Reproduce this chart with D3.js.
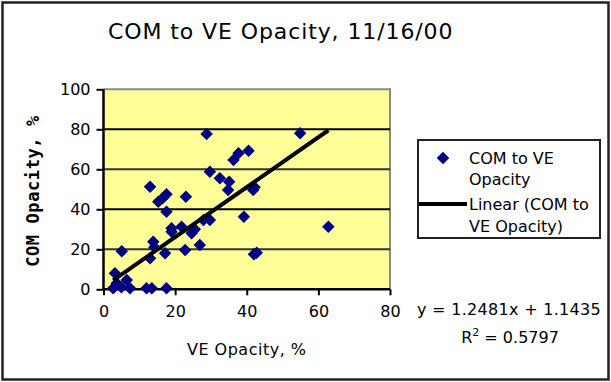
<!DOCTYPE html>
<html><head><meta charset="utf-8">
<script src="https://cdn.jsdelivr.net/npm/d3@7"></script>
<style>html,body{margin:0;padding:0;background:#fff;}svg{display:block;}</style>
</head><body>
<script>
// ---- data ----
const title = "COM to VE Opacity, 11/16/00";
const xLabel = "VE Opacity, %";
const yLabel = "COM Opacity, %";
const seriesName = ["COM to VE", "Opacity"];
const trendName = ["Linear (COM to", "VE Opacity)"];
const veOpacity  = [2.7, 3.2, 3.7, 5.0, 5.1, 6.5, 7.4, 12.0, 13.5, 17.6, 13.0, 13.9, 14.2, 17.2, 19.0, 13.0, 15.3, 16.5, 17.6, 23.0, 17.6, 19.0, 21.8, 24.6, 25.5, 27.9, 29.7, 22.8, 26.9, 28.8, 29.7, 32.5, 35.1, 34.8, 36.3, 37.7, 40.5, 41.8, 39.2, 42.8, 42.0, 54.9, 62.8, 42.2];
const comOpacity = [0.5, 8.0, 3.0, 1.0, 19.0, 4.6, 0.5, 0.5, 0.5, 0.5, 15.5, 23.8, 21.0, 18.0, 28.8, 51.3, 43.8, 45.5, 47.5, 46.3, 38.8, 30.5, 31.3, 28.0, 30.0, 34.6, 34.6, 19.6, 22.1, 77.6, 58.8, 55.5, 53.8, 49.6, 64.6, 68.0, 69.3, 49.6, 36.3, 18.3, 17.5, 78.0, 31.3, 51.0];
const trendSlope = 1.2481, trendIntercept = 1.1435, rSquared = "0.5797";
const xTicks = [0, 20, 40, 60, 80];
const yTicks = [0, 20, 40, 60, 80, 100];

const W = 611, H = 382;
const svg = d3.select("body").append("svg").attr("width", W).attr("height", H);
const font = "'DejaVu Sans', Verdana, sans-serif";

// outer border
svg.append("rect").attr("x", 2.5).attr("y", 2.5).attr("width", W - 5).attr("height", H - 5)
  .attr("fill", "#fff").attr("stroke", "#222").attr("stroke-width", 2.5);

const x = d3.scaleLinear().domain([0, 80]).range([103.5, 390]);
const y = d3.scaleLinear().domain([0, 100]).range([289.3, 89.3]);

// plot area
svg.append("rect").attr("x", x(0)).attr("y", y(100)).attr("width", x(80) - x(0)).attr("height", y(0) - y(100))
  .attr("fill", "#FFFF99");
svg.append("path").attr("d", `M${x(0)},${y(100)}H${x(80)}V${y(0)}`).attr("fill", "none").attr("stroke", "#888").attr("stroke-width", 2);

// gridlines
svg.append("g").selectAll("line").data(yTicks.filter(v => v > 0 && v < 100)).join("line")
  .attr("x1", x(0)).attr("x2", x(80)).attr("y1", d => y(d)).attr("y2", d => y(d))
  .attr("stroke", d => (d % 40 === 0) ? "#000" : "#333").attr("stroke-width", 2);

// axes
const xAxis = svg.append("g").attr("transform", `translate(0,${y(0)})`)
  .call(d3.axisBottom(x).tickValues(xTicks).tickSize(6).tickPadding(10));
const yAxis = svg.append("g").attr("transform", `translate(${x(0)},0)`)
  .call(d3.axisLeft(y).tickValues(yTicks).tickSize(7).tickPadding(6));
[xAxis, yAxis].forEach(a => {
  a.select(".domain").attr("stroke", "#000").attr("stroke-width", 2.5);
  a.selectAll(".tick line").attr("stroke", "#000").attr("stroke-width", 2);
  a.selectAll(".tick text").attr("font-family", font).attr("font-size", 16).attr("fill", "#000");
});
xAxis.select(".domain").attr("d", `M${x(0)},0H${x(80)}`);
yAxis.select(".domain").attr("d", `M0,${y(0)}V${y(100)}`);

// points (square diamonds)
const diamond = d3.symbol().type(d3.symbolSquare).size(78);
svg.append("g").selectAll("path").data(veOpacity.map((v, i) => [v, comOpacity[i]])).join("path")
  .attr("d", diamond).attr("transform", d => `translate(${x(d[0])},${y(d[1])}) rotate(45)`)
  .attr("fill", "#000080");

// trendline
const xmin = d3.min(veOpacity), xmax = d3.max(veOpacity);
svg.append("line")
  .attr("x1", x(xmin)).attr("y1", y(trendSlope * xmin + trendIntercept))
  .attr("x2", x(xmax)).attr("y2", y(trendSlope * xmax + trendIntercept))
  .attr("stroke", "#000").attr("stroke-width", 4);

// title
svg.append("text").attr("x", 108).attr("y", 39).attr("font-family", font).attr("font-size", 22)
  .attr("letter-spacing", 0.9).attr("fill", "#000").text(title);

// axis titles
svg.append("text").attr("x", x(40)).attr("y", 355).attr("text-anchor", "middle")
  .attr("font-family", font).attr("font-size", 16).attr("letter-spacing", 0.5).attr("fill", "#000").text(xLabel);
svg.append("text").attr("transform", "translate(39,191) rotate(-90)").attr("text-anchor", "middle")
  .attr("font-family", "'DejaVu Sans Mono', monospace").attr("font-weight", "bold").attr("font-size", 17)
  .attr("letter-spacing", 0.6).attr("fill", "#000").text(yLabel);

// legend
const lg = svg.append("g");
lg.append("rect").attr("x", 418).attr("y", 140).attr("width", 182).attr("height", 98)
  .attr("fill", "#fff").attr("stroke", "#222").attr("stroke-width", 2);
lg.append("path").attr("d", diamond).attr("transform", "translate(443,158) rotate(45)").attr("fill", "#000080");
lg.append("line").attr("x1", 419).attr("x2", 467).attr("y1", 204).attr("y2", 204).attr("stroke", "#000").attr("stroke-width", 4);
const legendLines = [[seriesName[0], 164], [seriesName[1], 185], [trendName[0], 210], [trendName[1], 232]];
lg.selectAll("text").data(legendLines).join("text")
  .attr("x", 469).attr("y", d => d[1]).attr("font-family", font).attr("font-size", 16).attr("fill", "#000")
  .text(d => d[0]);

// equation
svg.append("text").attr("x", 509).attr("y", 315).attr("text-anchor", "middle")
  .attr("font-family", font).attr("font-size", 16).attr("letter-spacing", 0.3).attr("fill", "#000")
  .text(`y = ${trendSlope}x + ${trendIntercept}`);
const r2 = svg.append("text").attr("x", 510).attr("y", 343).attr("text-anchor", "middle")
  .attr("font-family", font).attr("font-size", 16).attr("fill", "#000");
r2.append("tspan").text("R");
r2.append("tspan").attr("dy", -7).attr("font-size", 11).text("2");
r2.append("tspan").attr("dy", 7).text(` = ${rSquared}`);
</script>
</body></html>
